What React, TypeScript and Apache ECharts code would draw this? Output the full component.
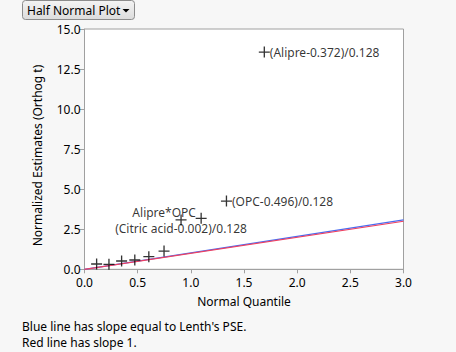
import React, { useEffect, useRef } from "react";
import * as echarts from "echarts";

const quantiles = [0.114, 0.23, 0.349, 0.473, 0.605, 0.748, 0.908, 1.097, 1.335, 1.691];
const estimates = [0.33, 0.31, 0.52, 0.58, 0.79, 1.14, 3.08, 3.18, 4.26, 13.56];
const pointLabels = ["", "", "", "", "", "", "(Citric acid-0.002)/0.128", "Alipre*OPC", "(OPC-0.496)/0.128", "(Alipre-0.372)/0.128"];
const xTicks = [0, 0.5, 1, 1.5, 2, 2.5, 3];
const yTicks = [0, 2.5, 5, 7.5, 10, 12.5, 15];
const lenthSlope = 1.027;
const refSlope = 1;
const noteLines = ["Blue line has slope equal to Lenth's PSE.", "Red line has slope 1."];
const yTitle = "Normalized Estimates (Orthog t)";
const xTitle = "Normal Quantile";

const FONT = "'Noto Sans', sans-serif";
const PLUS = "path://M4.4,0h1.2v4.4h4.4v1.2h-4.4v4.4h-1.2v-4.4h-4.4v-1.2h4.4z";

export default function App() {
  const ref = useRef<HTMLDivElement>(null);
  useEffect(() => {
    const chart = echarts.init(ref.current!, null, { renderer: "svg" });
    const labelCfg = (i: number) => {
      const t = pointLabels[i];
      if (!t) return { show: false };
      if (i === 6) return { show: true, position: "inside", offset: [0, 9] };
      if (i === 7) return { show: true, position: "inside", offset: [-37, -6] };
      return { show: true, position: "right", distance: 0 };
    };
    const xMax = xTicks[xTicks.length - 1];
    chart.setOption({
      animation: false,
      backgroundColor: "#f7f7f7",
      textStyle: { fontFamily: FONT },
      grid: {
        left: 84.5,
        right: 52.5,
        top: 29,
        bottom: 82.7,
        show: true,
        backgroundColor: "#ffffff",
        borderColor: "#a0a0a0",
        borderWidth: 1,
      },
      xAxis: {
        type: "value",
        min: xTicks[0],
        max: xMax,
        interval: 0.5,
        name: xTitle,
        nameLocation: "middle",
        nameGap: 26,
        nameTextStyle: { color: "#000", fontSize: 12, fontFamily: FONT },
        axisLine: { show: true, lineStyle: { color: "#a0a0a0" } },
        axisTick: { show: true, length: 4, lineStyle: { color: "#a0a0a0" } },
        splitLine: { show: false },
        axisLabel: { color: "#000", fontSize: 12, fontFamily: FONT, margin: 7, formatter: (v: number) => v.toFixed(1) },
      },
      yAxis: {
        type: "value",
        min: yTicks[0],
        max: yTicks[yTicks.length - 1],
        interval: 2.5,
        axisLine: { show: true, lineStyle: { color: "#a0a0a0" } },
        axisTick: { show: true, length: 5, lineStyle: { color: "#a0a0a0" } },
        splitLine: { show: false },
        axisLabel: { color: "#000", fontSize: 12, fontFamily: FONT, margin: 4, formatter: (v: number) => v.toFixed(1) },
      },
      series: [
        {
          type: "line",
          data: [[0, 0], [xMax, xMax * lenthSlope]],
          symbol: "none",
          lineStyle: { color: "#4a6cf0", width: 1.2 },
          z: 2,
        },
        {
          type: "line",
          data: [[0, 0], [xMax, xMax * refSlope]],
          symbol: "none",
          lineStyle: { color: "#ee4060", width: 1.2 },
          z: 2,
        },
        {
          type: "scatter",
          symbol: PLUS,
          symbolSize: 11,
          itemStyle: { color: "#000" },
          z: 3,
          data: quantiles.map((q, i) => ({
            value: [q, estimates[i]],
            label: { ...labelCfg(i), formatter: pointLabels[i], color: "#000", fontSize: 12, fontFamily: FONT },
          })),
        },
      ],
      graphic: [
        {
          type: "text",
          x: 37,
          y: 155.5,
          rotation: Math.PI / 2,
          style: { text: yTitle, fill: "#000", font: `12px ${FONT}`, align: "center", verticalAlign: "middle" },
        },
        {
          type: "rect",
          shape: { x: 22.5, y: 0.5, width: 112, height: 19, r: 3 },
          style: {
            fill: new echarts.graphic.LinearGradient(0, 0, 0, 1, [
              { offset: 0, color: "#f4f4f4" },
              { offset: 1, color: "#dcdcdc" },
            ]),
            stroke: "#8c8c8c",
            lineWidth: 1,
          },
        },
        {
          type: "text",
          x: 27,
          y: 10.5,
          style: { text: "Half Normal Plot", fill: "#000", font: `12px ${FONT}`, verticalAlign: "middle" },
        },
        {
          type: "polygon",
          shape: { points: [[122.5, 9], [129.5, 9], [126, 12.5]] },
          style: { fill: "#000" },
        },
        {
          type: "text",
          x: 22,
          y: 326,
          style: { text: noteLines[0], fill: "#000", font: `12px ${FONT}`, verticalAlign: "middle" },
        },
        {
          type: "text",
          x: 22,
          y: 342,
          style: { text: noteLines[1], fill: "#000", font: `12px ${FONT}`, verticalAlign: "middle" },
        },
      ],
    });
    return () => chart.dispose();
  }, []);
  return <div ref={ref} style={{ position: "fixed", left: 0, top: 0, width: 456, height: 352 }} />;
}
